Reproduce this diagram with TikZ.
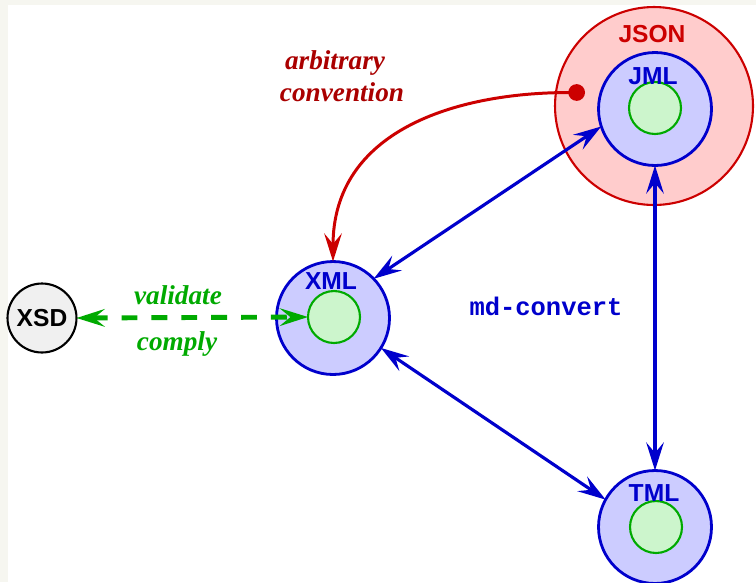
\documentclass[tikz,border=0pt]{standalone}
\usepackage{fontspec}
\setmainfont{Liberation Serif}
\setsansfont{Liberation Sans}
\setmonofont{Liberation Mono}
\usetikzlibrary{arrows.meta}
\definecolor{jsonred}{RGB}{204,0,0}
\definecolor{jsonpink}{RGB}{255,204,204}
\definecolor{langblue}{RGB}{0,0,204}
\definecolor{langfill}{RGB}{204,204,255}
\definecolor{coregreen}{RGB}{0,170,0}
\definecolor{corefill}{RGB}{204,245,204}
\definecolor{notered}{RGB}{170,0,0}
\definecolor{xsdfill}{RGB}{240,240,240}
\definecolor{pagestrip}{RGB}{246,246,240}

\begin{document}
\begin{tikzpicture}[x=0.02cm, y=-0.02cm,
		ring/.style={circle, inner sep=0pt, outer sep=0pt},
		outer/.style={ring, draw=jsonred, fill=jsonpink, line width=1.2pt, minimum size=3.96cm},
		lang/.style={ring, draw=langblue, fill=langfill, line width=1.6pt, minimum size=2.26cm},
		core/.style={ring, draw=coregreen, fill=corefill, line width=1.2pt, minimum size=1.04cm},
		tag/.style={inner sep=0pt, font=\fontsize{14}{16}\selectfont\sffamily\bfseries},
		note/.style={inner sep=0pt, font=\fontsize{15.5}{18}\selectfont\bfseries\itshape},
		>={Stealth[length=16pt, width=10pt, inset=6pt]},
		conv/.style={draw=langblue, line width=1.8pt, <->}]
	\clip (0,0) rectangle (756,582);
	\fill[pagestrip] (0,0) rectangle (756,582);
	\fill[white] (8,5) rectangle (756,582);

	\node[outer] (json) at (654,106) {};
	\node[lang] (jml) at (655,109) {};
	\node[core] (jmlcore) at (655,108) {};
	\node[lang] (xml) at (333,318) {};
	\node[core] (xmlcore) at (334,317) {};
	\node[lang] (tml) at (655,527) {};
	\node[core] (tmlcore) at (656,527) {};
	\node[ring, draw=black, fill=xsdfill, line width=1.2pt, minimum size=1.38cm, tag] (xsd) at (42,318) {XSD};

	\node[tag, jsonred] (jsontag) at (652,34) {JSON};
	\node[tag, langblue] (jmltag) at (653,76) {JML};
	\node[tag, langblue] (xmltag) at (331,281) {XML};
	\node[tag, langblue] (tmltag) at (654,493) {TML};

	\node[note, notered] (arbitrary) at (335,63) {arbitrary};
	\node[note, notered] (convention) at (342,92.5) {convention};
	\node[note, coregreen] (validate) at (178,295.5) {validate};
	\node[note, coregreen] (comply) at (177,343.5) {comply};
	\node[inner sep=0pt, langblue, font=\fontsize{14.5}{17}\selectfont\ttfamily\bfseries] (mdconvert) at (546,306.5) {md-convert};

	\coordinate (tap) at (585,92.5);
	\draw[jsonred, line width=1.7pt, {Circle[length=9.5pt]}->] (tap) to[out=180, in=90, looseness=1.1] (xml.north);
	\draw[conv] (xml.44) -- (jml.198);
	\draw[conv] (jml.south) -- (tml.north);
	\draw[conv] (xml.-32) -- (tml.151);
	\draw[coregreen, line width=2.8pt, dash pattern=on 9pt off 8pt, <->] (xsd.east) -- (xmlcore.west);
\end{tikzpicture}
\end{document}
